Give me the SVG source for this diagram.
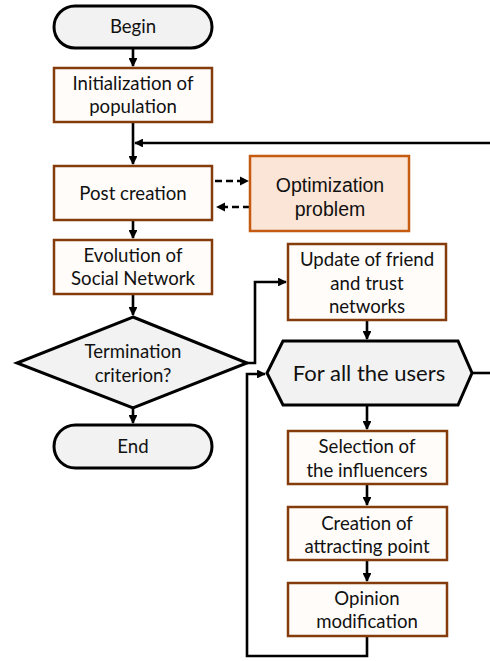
<svg xmlns="http://www.w3.org/2000/svg" width="490" height="661" viewBox="0 0 490 661">
<defs>
<marker id="ah" viewBox="0 0 10 10" refX="9" refY="5" markerWidth="3.4" markerHeight="3.4" orient="auto" markerUnits="strokeWidth"><path d="M0,0 L10,5 L0,10 z" fill="#000"/></marker>
<marker id="ahd" viewBox="0 0 10 10" refX="9" refY="5" markerWidth="3.6" markerHeight="3.6" orient="auto" markerUnits="strokeWidth"><path d="M0,0 L10,5 L0,10 z" fill="#000"/></marker>
</defs>
<style>
.term{fill:#F2F2F2;stroke:#000;stroke-width:3}
.proc{fill:#FFFCF9;stroke:#843C0C;stroke-width:2.5}
.opt{fill:#FBE5D6;stroke:#C55A11;stroke-width:2.5}
.t{font-family:Lato,"Open Sans",sans-serif;font-size:18.6px;fill:#111;text-anchor:middle}
.ta{font-family:"Liberation Sans",Arial,sans-serif;font-size:19.5px;fill:#111;text-anchor:middle}
.c{fill:none;stroke:#000;stroke-width:2.6}
.d{fill:none;stroke:#000;stroke-width:2.6;stroke-dasharray:7,4}
</style>
<g id="connectors">
<path class="c" d="M133,48 V66" marker-end="url(#ah)"/>
<path class="c" d="M133,122 V164" marker-end="url(#ah)"/>
<path class="c" d="M490,143 H135" marker-end="url(#ah)"/>
<path class="d" d="M215,181 H248" marker-end="url(#ahd)"/>
<path class="d" d="M250,207 H217" marker-end="url(#ahd)"/>
<path class="c" d="M133,220 V238" marker-end="url(#ah)"/>
<path class="c" d="M133,294 V315" marker-end="url(#ah)"/>
<path class="c" d="M133,408 V423" marker-end="url(#ah)"/>
<path class="c" d="M247,363 H255 V282 H286" marker-end="url(#ah)"/>
<path class="c" d="M367,320 V339" marker-end="url(#ah)"/>
<path class="c" d="M472,373 H490"/>
<path class="c" d="M367,405 V429" marker-end="url(#ah)"/>
<path class="c" d="M367,484 V505" marker-end="url(#ah)"/>
<path class="c" d="M367,560 V581" marker-end="url(#ah)"/>
<path class="c" d="M367,636 V656 H247 V374 H265" marker-end="url(#ah)"/>
</g>
<g id="begin"><rect class="term" x="54" y="6" width="158" height="42" rx="21"/><text class="t" x="133" y="33">Begin</text></g>
<g id="init"><rect class="proc" x="54" y="68" width="158" height="54"/><text class="t" x="133" y="90">Initialization of</text><text class="t" x="133" y="113">population</text></g>
<g id="post"><rect class="proc" x="54" y="166" width="158" height="54"/><text class="t" x="133" y="200">Post creation</text></g>
<g id="optim"><rect class="opt" x="250" y="156" width="159" height="75"/><text class="ta" x="330" y="192">Optimization</text><text class="ta" x="330" y="216">problem</text></g>
<g id="evol"><rect class="proc" x="54" y="240" width="158" height="54"/><text class="t" x="133" y="262">Evolution of</text><text class="t" x="133" y="285">Social Network</text></g>
<g id="term"><polygon class="term" points="133,317 247,363 133,408 17,363"/><text class="t" x="133" y="358">Termination</text><text class="t" x="133" y="382">criterion?</text></g>
<g id="end"><rect class="term" x="54" y="425" width="158" height="43" rx="21.5"/><text class="t" x="133" y="453">End</text></g>
<g id="update"><rect class="proc" x="288" y="244" width="158" height="76"/><text class="t" x="367" y="266">Update of friend</text><text class="t" x="367" y="290">and trust</text><text class="t" x="367" y="313">networks</text></g>
<g id="forall"><polygon class="term" points="283,341 458,341 472,373 458,405 283,405 267,373"/><text class="t" x="369" y="381" style="font-size:22px">For all the users</text></g>
<g id="select"><rect class="proc" x="288" y="431" width="159" height="53"/><text class="t" x="367" y="453">Selection of</text><text class="t" x="367" y="477">the influencers</text></g>
<g id="create"><rect class="proc" x="288" y="507" width="159" height="53"/><text class="t" x="367" y="530">Creation of</text><text class="t" x="367" y="553">attracting point</text></g>
<g id="opinion"><rect class="proc" x="288" y="583" width="159" height="53"/><text class="t" x="367" y="605">Opinion</text><text class="t" x="367" y="628">modification</text></g>
</svg>
